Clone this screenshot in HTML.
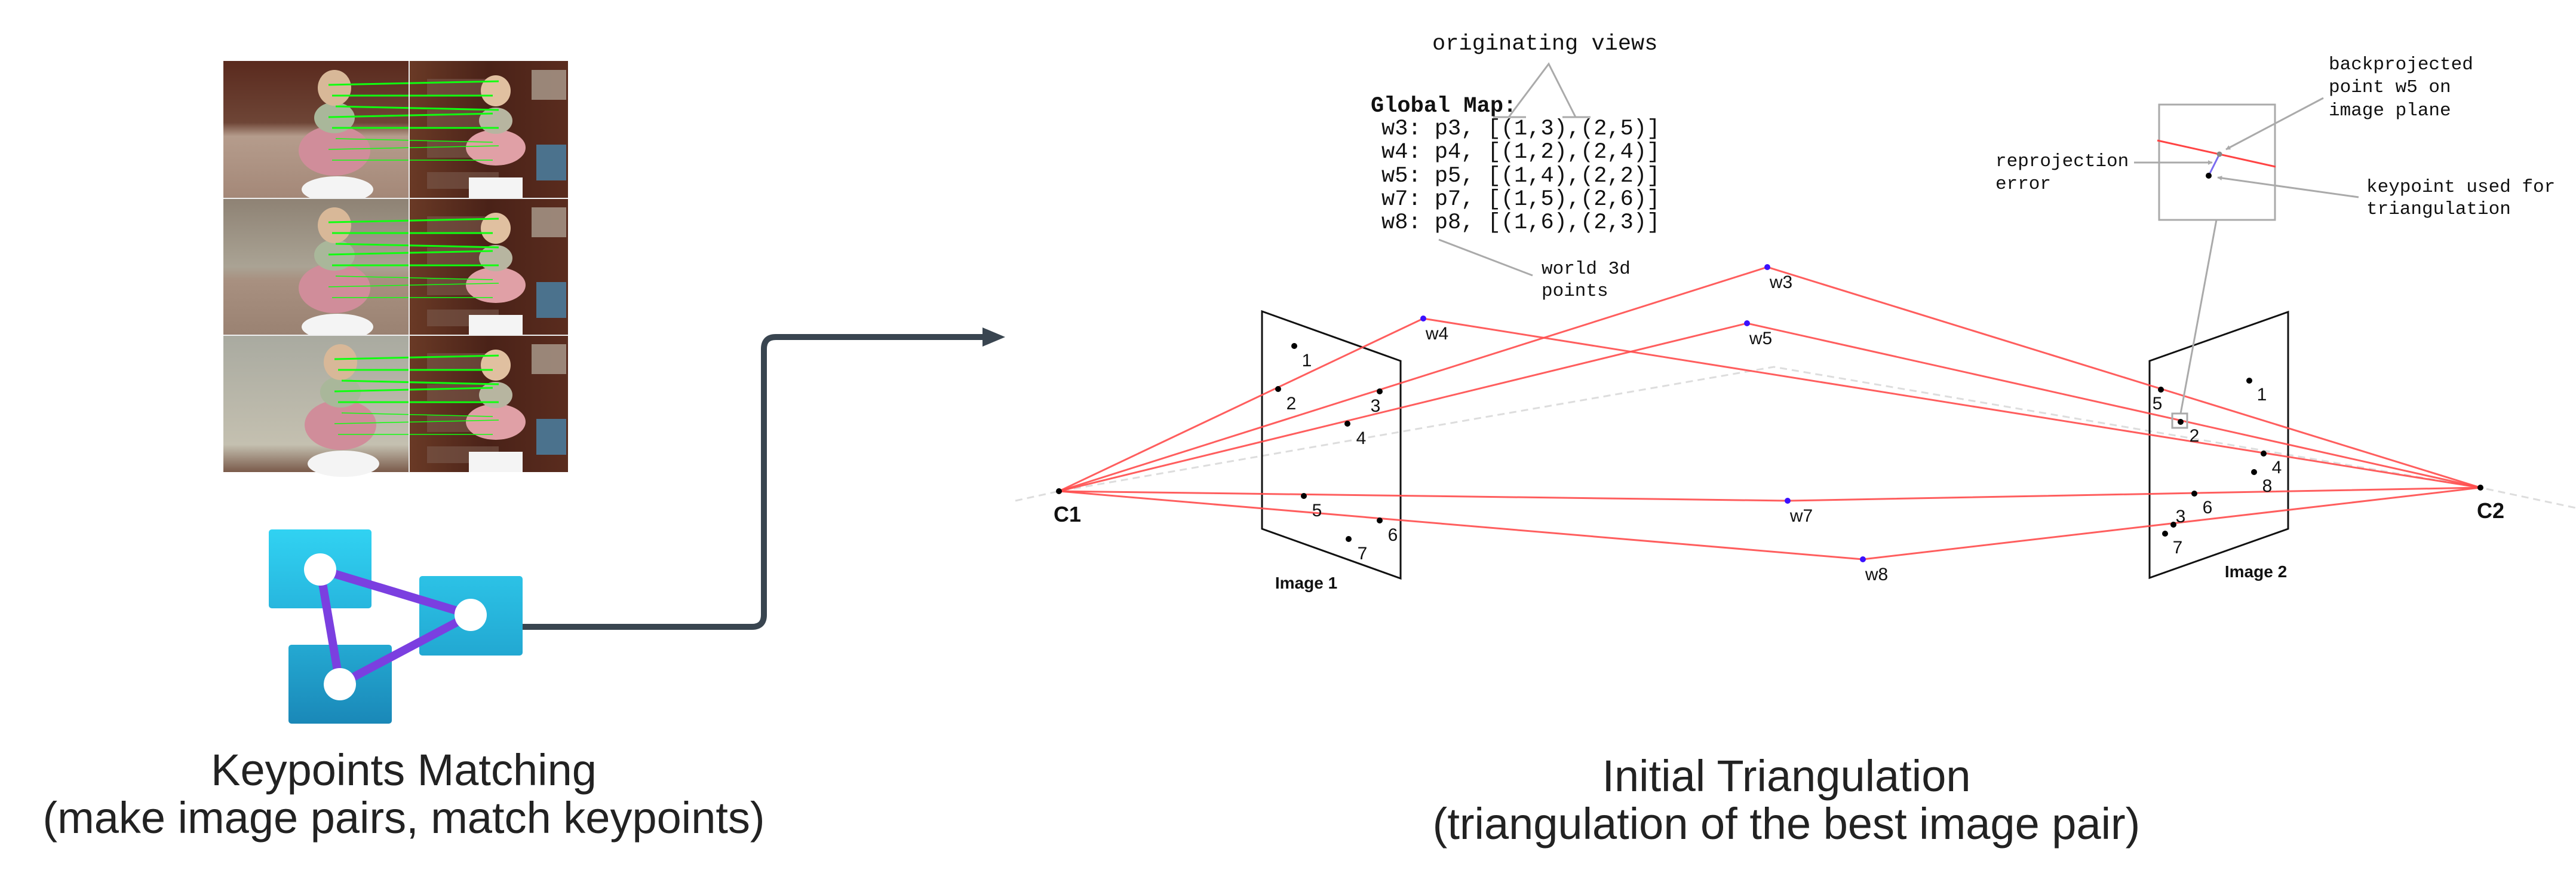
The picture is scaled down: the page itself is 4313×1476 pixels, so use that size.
<!DOCTYPE html>
<html><head><meta charset="utf-8">
<style>
html,body{margin:0;padding:0;background:#fff;}
svg{display:block;}
.mono{font-family:"Liberation Mono",monospace;font-size:31px;fill:#111;}
.big{font-size:37px;}
.sans{font-family:"Liberation Sans",sans-serif;}
</style></head>
<body>
<svg id="root" width="4313" height="1476" viewBox="0 0 4313 1476" xmlns="http://www.w3.org/2000/svg">
<defs>
  <linearGradient id="gsq1" x1="0" y1="0" x2="0" y2="1"><stop offset="0" stop-color="#31d2f2"/><stop offset="1" stop-color="#27b6de"/></linearGradient>
  <linearGradient id="gsq2" x1="0" y1="0" x2="0" y2="1"><stop offset="0" stop-color="#2cc2e6"/><stop offset="1" stop-color="#22a8d2"/></linearGradient>
  <linearGradient id="gsq3" x1="0" y1="0" x2="0" y2="1"><stop offset="0" stop-color="#24a9d2"/><stop offset="1" stop-color="#1a88b8"/></linearGradient>
  <linearGradient id="gleft" x1="0" y1="0" x2="0" y2="1"><stop offset="0" stop-color="#5a2a1e"/><stop offset="0.45" stop-color="#6e4536"/><stop offset="0.55" stop-color="#b59c8c"/><stop offset="1" stop-color="#a48878"/></linearGradient>
  <linearGradient id="gleft2" x1="0" y1="0" x2="0" y2="1"><stop offset="0" stop-color="#8e8274"/><stop offset="0.5" stop-color="#aaa394"/><stop offset="0.6" stop-color="#a89080"/><stop offset="1" stop-color="#9a8272"/></linearGradient>
  <linearGradient id="gleft3" x1="0" y1="0" x2="0" y2="1"><stop offset="0" stop-color="#a9aaa0"/><stop offset="0.8" stop-color="#c4c0b0"/><stop offset="1" stop-color="#7a5a4a"/></linearGradient>
  <linearGradient id="gright" x1="0" y1="0" x2="1" y2="0"><stop offset="0" stop-color="#6a3a26"/><stop offset="0.5" stop-color="#4a2218"/><stop offset="1" stop-color="#5a2c1e"/></linearGradient>
  <marker id="arr" viewBox="0 0 10 10" refX="9" refY="5" markerWidth="8" markerHeight="8" orient="auto" markerUnits="userSpaceOnUse"><path d="M0,0 L10,5 L0,10 z" fill="#aaa"/></marker>
</defs>

<g id="photos"></g>

<g>
  <rect x="450" y="886" width="172" height="132" rx="5" fill="url(#gsq1)"/>
  <rect x="702" y="964" width="173" height="133" rx="5" fill="url(#gsq2)"/>
  <rect x="483" y="1079" width="173" height="132" rx="5" fill="url(#gsq3)"/>
  <polygon points="536,953 788,1029 569,1145" fill="none" stroke="#7b3fe0" stroke-width="14" stroke-linejoin="round"/>
  <circle cx="536" cy="953" r="27" fill="#fff"/>
  <circle cx="788" cy="1029" r="27" fill="#fff"/>
  <circle cx="569" cy="1145" r="27" fill="#fff"/>
</g>

<path d="M875,1049 L1259,1049 Q1279,1049 1279,1029 L1279,584 Q1279,564 1299,564 L1650,564" fill="none" stroke="#394550" stroke-width="10"/>
<polygon points="1645,548 1683,564 1645,580" fill="#394550"/>

<text class="sans" x="676" y="1314" font-size="74" fill="#222" text-anchor="middle">Keypoints Matching</text>
<text class="sans" x="676" y="1394" font-size="74" fill="#222" text-anchor="middle">(make image pairs, match keypoints)</text>
<text class="sans" x="2991" y="1324" font-size="74" fill="#222" text-anchor="middle">Initial Triangulation</text>
<text class="sans" x="2991" y="1404" font-size="74" fill="#222" text-anchor="middle">(triangulation of the best image pair)</text>

<g>
  <text class="mono big" x="2398" y="83">originating views</text>
  <polyline points="2526,196 2593,107 2638,196" fill="none" stroke="#aaa" stroke-width="3"/>
  <line x1="2500" y1="196" x2="2555" y2="196" stroke="#aaa" stroke-width="3"/>
  <line x1="2616" y1="196" x2="2663" y2="196" stroke="#aaa" stroke-width="3"/>
  <text class="mono big" x="2295" y="187" font-weight="bold">Global Map:</text>
  <text class="mono big" x="2313" y="225">w3: p3, [(1,3),(2,5)]</text>
  <text class="mono big" x="2313" y="264">w4: p4, [(1,2),(2,4)]</text>
  <text class="mono big" x="2313" y="304">w5: p5, [(1,4),(2,2)]</text>
  <text class="mono big" x="2313" y="343">w7: p7, [(1,5),(2,6)]</text>
  <text class="mono big" x="2313" y="382">w8: p8, [(1,6),(2,3)]</text>
  <line x1="2409" y1="401" x2="2566" y2="461" stroke="#aaa" stroke-width="3"/>
  <text class="mono" x="2581" y="458">world 3d</text>
  <text class="mono" x="2581" y="495">points</text>
</g>

<g id="diagram"></g>

<g>
  <rect x="3615" y="175" width="194" height="193" fill="none" stroke="#aaa" stroke-width="3"/>
  <line x1="3711" y1="368" x2="3651" y2="692" stroke="#aaa" stroke-width="3"/>
  <rect x="3637" y="692" width="25" height="24" fill="none" stroke="#aaa" stroke-width="3"/>
  <line x1="3612" y1="235" x2="3810" y2="279" stroke="#f44" stroke-width="3"/>
  <line x1="3716" y1="258" x2="3698" y2="294" stroke="#7a6cf0" stroke-width="3"/>
  <circle cx="3716" cy="258" r="4.5" fill="#888"/>
  <circle cx="3698" cy="294" r="5" fill="#000"/>
  <line x1="3890" y1="164" x2="3727" y2="250" stroke="#aaa" stroke-width="3" marker-end="url(#arr)"/>
  <line x1="3573" y1="272" x2="3704" y2="272" stroke="#aaa" stroke-width="3" marker-end="url(#arr)"/>
  <line x1="3949" y1="330" x2="3713" y2="297" stroke="#aaa" stroke-width="3" marker-end="url(#arr)"/>
  <text class="mono" x="3899" y="116">backprojected</text>
  <text class="mono" x="3899" y="154">point w5 on</text>
  <text class="mono" x="3899" y="193">image plane</text>
  <text class="mono" x="3341" y="278">reprojection</text>
  <text class="mono" x="3341" y="316">error</text>
  <text class="mono" x="3962" y="321">keypoint used for</text>
  <text class="mono" x="3962" y="358">triangulation</text>
</g>
</svg>

<script>
const camNames = ["C1", "C2"];
const camX = [1773, 4153];
const camY = [822, 816];
const worldNames = ["w3", "w4", "w5", "w7", "w8"];
const worldX = [2959, 2383, 2925, 2993, 3119];
const worldY = [447, 533, 541, 838, 936];
const kp1Names = ["1", "2", "3", "4", "5", "6", "7"];
const kp1X = [2167, 2140, 2310, 2256, 2183, 2310, 2258];
const kp1Y = [579, 651, 655, 709, 830, 871, 902];
const kp2Names = ["1", "2", "3", "4", "5", "6", "7", "8"];
const kp2X = [3766, 3651, 3639, 3790, 3618, 3674, 3625, 3774];
const kp2Y = [637, 706, 878, 759, 652, 826, 893, 790];
const kp1LabelDX = [21, 22, -7, 23, 22, 22, 23];
const kp2LabelDX = [21, 23, 12, 22, -6, 22, 21, 22];

const NS = "http://www.w3.org/2000/svg";
const diag = document.getElementById("diagram");
function mk(tag, attrs, parent) {
  const e = document.createElementNS(NS, tag);
  for (const k in attrs) e.setAttribute(k, attrs[k]);
  (parent || diag).appendChild(e);
  return e;
}

let el = mk("polyline", {points: "1700,838 " + camX[0] + "," + camY[0] + " 2970,614 " + camX[1] + "," + camY[1] + " 4313,850", fill: "none", stroke: "#ddd", "stroke-width": 3, "stroke-dasharray": "12,8"});



el = mk("polygon", {points: "2113,521 2345,604 2345,968 2113,885", fill: "none", stroke: "#111", "stroke-width": 3});


el = mk("polygon", {points: "3599,604 3831,522 3831,885 3599,967", fill: "none", stroke: "#111", "stroke-width": 3});



for (let i = 0; i < worldNames.length; i++) {
  el = mk("polyline", {points: camX[0] + "," + camY[0] + " " + worldX[i] + "," + worldY[i] + " " + camX[1] + "," + camY[1], fill: "none", stroke: "#ff4d4d", "stroke-width": 3, "stroke-opacity": 0.9});
  
  
}

for (let i = 0; i < kp1Names.length; i++) {
  el = mk("circle", {cx: kp1X[i], cy: kp1Y[i], r: 5, fill: "#000"});
  
  
  el = mk("text", {x: kp1X[i] + kp1LabelDX[i], y: kp1Y[i] + 34, "font-size": 30, "text-anchor": "middle", "font-family": "Liberation Sans, sans-serif", fill: "#111"});
  el.textContent = kp1Names[i];
  
  
}
for (let i = 0; i < kp2Names.length; i++) {
  el = mk("circle", {cx: kp2X[i], cy: kp2Y[i], r: 5, fill: "#000"});
  
  
  el = mk("text", {x: kp2X[i] + kp2LabelDX[i], y: kp2Y[i] + (kp2Names[i] === "3" ? -4 : 33), "font-size": 30, "text-anchor": "middle", "font-family": "Liberation Sans, sans-serif", fill: "#111"});
  el.textContent = kp2Names[i];
  
  
}
for (let i = 0; i < worldNames.length; i++) {
  el = mk("circle", {cx: worldX[i], cy: worldY[i], r: 5, fill: "#3a10ff"});
  
  
  el = mk("text", {x: worldX[i] + 23, y: worldY[i] + 35, "font-size": 30, "text-anchor": "middle", "font-family": "Liberation Sans, sans-serif", fill: "#111"});
  el.textContent = worldNames[i];
  
  
}
for (let i = 0; i < camNames.length; i++) {
  el = mk("circle", {cx: camX[i], cy: camY[i], r: 5, fill: "#000"});
  
  
  el = mk("text", {x: camX[i] + (i === 0 ? 14 : 17), y: camY[i] + 51, "font-size": 36, "font-weight": "bold", "text-anchor": "middle", "font-family": "Liberation Sans, sans-serif", fill: "#111"});
  el.textContent = camNames[i];
  
  
}
el = mk("text", {x: 2187, y: 985, "font-size": 28, "font-weight": "bold", "text-anchor": "middle", "font-family": "Liberation Sans, sans-serif", fill: "#111"});
el.textContent = "Image 1";


el = mk("text", {x: 3777, y: 966, "font-size": 28, "font-weight": "bold", "text-anchor": "middle", "font-family": "Liberation Sans, sans-serif", fill: "#111"});
el.textContent = "Image 2";



// ---- photo grid ----
const ph = document.getElementById("photos");
const rowTops = [102, 332, 561];
const rowH = 229;
const leftFills = ["url(#gleft)", "url(#gleft2)", "url(#gleft3)"];
const figLX = [560, 560, 570];
const L0 = 374, MID = 685, R1 = 951;
for (let r = 0; r < 3; r++) {
  const t = rowTops[r];
  el = mk("rect", {x: L0, y: t, width: MID - L0, height: rowH, fill: leftFills[r]}, ph);
  
  
  el = mk("rect", {x: MID, y: t, width: R1 - MID, height: rowH, fill: "url(#gright)"}, ph);
  
  
  for (let s = 0; s < 4; s++) {
    mk("rect", {x: 715, y: t + 30 + s * 52, width: 120, height: 28, fill: "#7a5a4c", opacity: 0.6}, ph);
  }
  mk("rect", {x: 890, y: t + 15, width: 58, height: 50, fill: "#b8aea0", opacity: 0.7}, ph);
  mk("rect", {x: 898, y: t + 140, width: 50, height: 60, fill: "#4a7a9a", opacity: 0.9}, ph);
  const fx = figLX[r];
  mk("ellipse", {cx: fx + 5, cy: t + 215, rx: 60, ry: 22, fill: "#f4f4f4"}, ph);
  mk("ellipse", {cx: fx, cy: t + 150, rx: 60, ry: 42, fill: "#d08d9a"}, ph);
  mk("ellipse", {cx: fx, cy: t + 95, rx: 34, ry: 26, fill: "#a9b79a"}, ph);
  mk("ellipse", {cx: fx, cy: t + 45, rx: 28, ry: 30, fill: "#d8b898"}, ph);
  mk("rect", {x: 785, y: t + 195, width: 90, height: 34, fill: "#f4f4f4"}, ph);
  mk("ellipse", {cx: 830, cy: t + 145, rx: 50, ry: 30, fill: "#e0a0a6"}, ph);
  mk("ellipse", {cx: 830, cy: t + 100, rx: 28, ry: 22, fill: "#b7b5a0"}, ph);
  mk("ellipse", {cx: 830, cy: t + 50, rx: 25, ry: 26, fill: "#e0c0a0"}, ph);
  for (let k = 0; k < 8; k++) {
    const y1 = t + 40 + k * 18;
    mk("line", {x1: fx - 10 + (k % 3) * 6, y1: y1, x2: 835 - (k % 2) * 10, y2: y1 + ((k % 3) - 1) * 6, stroke: "#10ff10", "stroke-width": k < 5 ? 3 : 1.5}, ph);
  }
}
mk("line", {x1: MID, y1: 102, x2: MID, y2: 791, stroke: "#eee", "stroke-width": 2}, ph);
mk("line", {x1: L0, y1: 332, x2: R1, y2: 332, stroke: "#eee", "stroke-width": 2}, ph);
mk("line", {x1: L0, y1: 561, x2: R1, y2: 561, stroke: "#eee", "stroke-width": 2}, ph);
</script>
</body></html>
